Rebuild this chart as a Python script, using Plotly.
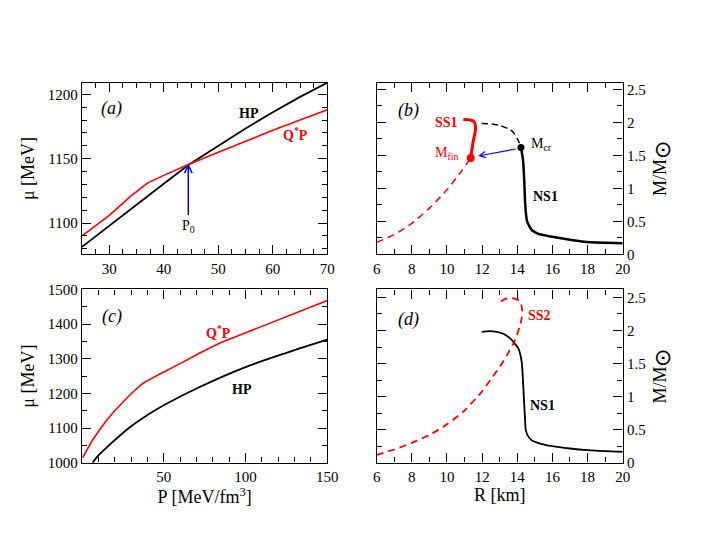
import plotly.graph_objects as go

# ---------------- data ----------------
# panel (a): chemical potential vs pressure (low P)
a_hp_p = [25, 30, 35, 40, 44.5, 50, 55, 60, 65, 70]
a_hp_mu = [1081.5, 1098, 1114.5, 1130.5, 1145, 1160, 1173.5, 1186, 1198, 1209]
a_qp_p = [25, 30, 34, 37, 40, 44.5, 50, 60, 70]
a_qp_mu = [1090, 1106, 1121, 1131, 1137, 1145.5, 1155, 1172, 1188]
a_p0 = 44.5

# panel (b): mass-radius, scenario 1
b_ss1_dash_r = [6.0, 7.0, 8.0, 9.0, 10.0, 10.8, 11.35]
b_ss1_dash_m = [0.18, 0.30, 0.47, 0.70, 0.98, 1.25, 1.46]
b_ss1_solid_r = [11.35, 11.5, 11.6, 11.63, 11.54, 11.35, 11.21, 10.93]
b_ss1_solid_m = [1.46, 1.72, 1.85, 1.93, 2.01, 2.035, 2.04, 2.04]
b_ns1_dash_r = [11.98, 12.5, 13.02, 13.5, 13.77, 14.06, 14.21]
b_ns1_dash_m = [1.98, 1.975, 1.95, 1.90, 1.85, 1.72, 1.62]
b_ns1_r = [14.21, 14.33, 14.40, 14.44, 14.50, 14.56, 14.70, 14.85, 15.2, 15.9, 17.0, 17.8, 19.0, 20.0]
b_ns1_m = [1.62, 1.42, 1.10, 0.82, 0.60, 0.50, 0.42, 0.36, 0.31, 0.27, 0.22, 0.19, 0.175, 0.166]
b_mcr = (14.21, 1.62)
b_mfin = (11.35, 1.46)

# panel (c): chemical potential vs pressure (wide P)
c_qp_p = [0.5, 3, 6, 10, 15, 20, 25, 30, 34, 37, 40, 45, 50, 60, 72.6, 85, 100, 115, 130, 150]
c_qp_mu = [1015, 1038, 1062, 1090, 1122, 1150, 1176, 1199, 1216, 1228, 1237, 1250, 1262, 1286, 1318, 1347, 1375, 1404, 1431, 1468]
c_hp_p = [6.5, 10, 16.7, 20, 30, 40, 50, 72.6, 100, 125, 150]
c_hp_mu = [1000, 1021, 1051, 1065, 1105, 1138, 1166, 1220, 1276, 1317, 1355]

# panel (d): mass-radius, scenario 2
d_ns1_r = [11.98, 12.4, 12.83, 13.2, 13.59, 14.06, 14.25, 14.34, 14.39, 14.44, 14.48, 14.6, 14.82, 15.3, 16.0, 17.0, 18.0, 19.0, 20.0]
d_ns1_m = [1.98, 1.99, 1.98, 1.95, 1.88, 1.73, 1.53, 1.17, 0.90, 0.67, 0.50, 0.41, 0.34, 0.29, 0.25, 0.215, 0.19, 0.175, 0.166]
d_ss2_r = [6.0, 7.0, 8.0, 9.0, 10.0, 11.0, 12.0, 12.6, 13.0, 13.4, 13.87, 14.16, 14.26, 14.28, 14.22, 14.1, 13.97, 13.75, 13.49, 13.25, 13.02]
d_ss2_m = [0.12, 0.20, 0.30, 0.42, 0.58, 0.79, 1.08, 1.30, 1.45, 1.62, 1.85, 2.08, 2.20, 2.30, 2.40, 2.45, 2.47, 2.49, 2.49, 2.47, 2.43]

# ---------------- figure ----------------
FONT = "Liberation Serif"
RED = "#ff0000"
BLACK = "#000000"
BLUE = "#0000ff"

fig = go.Figure()

# (a)
fig.add_trace(go.Scatter(x=a_hp_p, y=a_hp_mu, mode="lines", line=dict(color=BLACK, width=1.8),
                         xaxis="x", yaxis="y", showlegend=False))
fig.add_trace(go.Scatter(x=a_qp_p, y=a_qp_mu, mode="lines", line=dict(color=RED, width=1.6),
                         xaxis="x", yaxis="y", showlegend=False))

# (b)
fig.add_trace(go.Scatter(x=b_ss1_dash_r, y=b_ss1_dash_m, mode="lines", line=dict(color=RED, width=1.5, dash="7px,5px", shape="spline", smoothing=0.8),
                         xaxis="x2", yaxis="y2", showlegend=False))
fig.add_trace(go.Scatter(x=b_ss1_solid_r, y=b_ss1_solid_m, mode="lines", line=dict(color=RED, width=3, shape="spline", smoothing=0.8),
                         xaxis="x2", yaxis="y2", showlegend=False))
fig.add_trace(go.Scatter(x=b_ns1_dash_r, y=b_ns1_dash_m, mode="lines", line=dict(color=BLACK, width=1.5, dash="6px,4px", shape="spline", smoothing=0.8),
                         xaxis="x2", yaxis="y2", showlegend=False))
fig.add_trace(go.Scatter(x=b_ns1_r, y=b_ns1_m, mode="lines", line=dict(color=BLACK, width=2.5, shape="spline", smoothing=0.6),
                         xaxis="x2", yaxis="y2", showlegend=False))
fig.add_trace(go.Scatter(x=[b_mcr[0]], y=[b_mcr[1]], mode="markers", marker=dict(color=BLACK, size=7),
                         xaxis="x2", yaxis="y2", showlegend=False))
fig.add_trace(go.Scatter(x=[b_mfin[0]], y=[b_mfin[1]], mode="markers", marker=dict(color=RED, size=8),
                         xaxis="x2", yaxis="y2", showlegend=False))

# (c)
fig.add_trace(go.Scatter(x=c_qp_p, y=c_qp_mu, mode="lines", line=dict(color=RED, width=1.6),
                         xaxis="x3", yaxis="y3", showlegend=False))
fig.add_trace(go.Scatter(x=c_hp_p, y=c_hp_mu, mode="lines", line=dict(color=BLACK, width=1.8, shape="spline", smoothing=0.8),
                         xaxis="x3", yaxis="y3", showlegend=False))

# (d)
fig.add_trace(go.Scatter(x=d_ns1_r, y=d_ns1_m, mode="lines", line=dict(color=BLACK, width=1.8, shape="spline", smoothing=0.6),
                         xaxis="x4", yaxis="y4", showlegend=False))
fig.add_trace(go.Scatter(x=d_ss2_r, y=d_ss2_m, mode="lines", line=dict(color=RED, width=1.8, dash="7px,5px", shape="spline", smoothing=0.6),
                         xaxis="x4", yaxis="y4", showlegend=False))

tickfont = dict(family=FONT, size=15, color=BLACK)
titlefont = dict(family=FONT, size=18, color=BLACK)


def axis(domain, rng, dtick, mdtick, anchor, side=None, title=None, tickvals=None, standoff=None):
    d = dict(domain=domain, range=rng, anchor=anchor, showgrid=False, zeroline=False,
             automargin=False,
             showline=True, linecolor=BLACK, linewidth=1.4, mirror="allticks",
             ticks="inside", ticklen=9, tickwidth=1.3, tickcolor=BLACK,
             tickfont=tickfont, dtick=dtick,
             minor=dict(ticks="inside", ticklen=5, tickwidth=1.3, tickcolor=BLACK, dtick=mdtick, showgrid=False))
    if tickvals is not None:
        d["tickmode"] = "array"
        d["tickvals"] = tickvals
        d.pop("dtick")
    if side:
        d["side"] = side
    if title:
        d["title"] = dict(text=title, font=titlefont, standoff=standoff if standoff is not None else 6)
    return d


# domains (compensating the 8px page margin)
XL = [0.10496, 0.45291]
XR = [0.52298, 0.87191]
YT = [0.54807, 0.86294]
YB = [0.16569, 0.48349]

MSUN = "M/M<sub><span style='font-size:22px'>⊙</span></sub>"

fig.update_layout(
    width=705, height=545,
    autosize=False,
    margin=dict(l=0, r=0, t=0, b=0, pad=0),
    paper_bgcolor="white", plot_bgcolor="white",
    font=dict(family=FONT, color=BLACK),
    xaxis=axis(XL, [25, 70], 10, 2.5, "y"),
    yaxis=axis(YT, [1075.7, 1209], 50, 10, "x", title="μ [MeV]", standoff=8),
    xaxis2=axis(XR, [6, 20], 2, 1, "y2"),
    yaxis2=axis(YT, [0, 2.6], 0.5, 0.25, "x2", side="right", title=MSUN, standoff=8),
    xaxis3=axis(XL, [0, 150], None, 10, "y3", title="P [MeV/fm<sup>3</sup>]", tickvals=[50, 100, 150], standoff=4),
    yaxis3=axis(YB, [1000, 1500], 100, 50, "x3", title="μ [MeV]", standoff=8),
    xaxis4=axis(XR, [6, 20], 2, 1, "y4", title="R [km]", standoff=4),
    yaxis4=axis(YB, [0, 2.62], 0.5, 0.25, "x4", side="right", title=MSUN, standoff=8),
)

ann = []


def txt(x, y, s, xr, yr, color=BLACK, size=16, xanchor="center"):
    ann.append(dict(x=x, y=y, xref=xr, yref=yr, text=s, showarrow=False,
                    font=dict(family=FONT, size=size, color=color), xanchor=xanchor, yanchor="middle"))


# (a)
txt(30.5, 1189, "<i>(a)</i>", "x", "y", size=18)
txt(55.6, 1185, "<b>HP</b>", "x", "y", size=14)
txt(64.2, 1169, "<b>Q<sup>*</sup>P</b>", "x", "y", color=RED, size=14)
txt(a_p0, 1097, "P<sub>0</sub>", "x", "y", size=14)
ann.append(dict(x=a_p0, y=1146, ax=a_p0, ay=1105, xref="x", yref="y", axref="x", ayref="y",
                showarrow=True, arrowhead=5, arrowsize=1, arrowwidth=1.5, arrowcolor=BLUE, text=""))

# (b)
txt(7.8, 2.18, "<i>(b)</i>", "x2", "y2", size=18)
txt(9.98, 1.99, "<b>SS1</b>", "x2", "y2", color=RED, size=14)
txt(10.75, 1.52, "M<sub>fin</sub>", "x2", "y2", color=RED, size=14, xanchor="right")
txt(14.65, 1.66, "M<sub>cr</sub>", "x2", "y2", size=14, xanchor="left")
txt(15.58, 0.88, "<b>NS1</b>", "x2", "y2", size=14)
ann.append(dict(x=11.78, y=1.49, ax=14.0, ay=1.60, xref="x2", yref="y2", axref="x2", ayref="y2",
                showarrow=True, arrowhead=5, arrowsize=1, arrowwidth=1.2, arrowcolor=BLUE, text=""))

# (c)
txt(18.5, 1423, "<i>(c)</i>", "x3", "y3", size=18)
txt(83.5, 1376, "<b>Q<sup>*</sup>P</b>", "x3", "y3", color=RED, size=14)
txt(97.8, 1212, "<b>HP</b>", "x3", "y3", size=14)

# (d)
txt(7.8, 2.16, "<i>(d)</i>", "x4", "y4", size=18)
txt(15.24, 2.23, "<b>SS2</b>", "x4", "y4", color=RED, size=14)
txt(15.45, 0.86, "<b>NS1</b>", "x4", "y4", size=14)

fig.update_layout(annotations=ann)

fig.write_html("out.html")
